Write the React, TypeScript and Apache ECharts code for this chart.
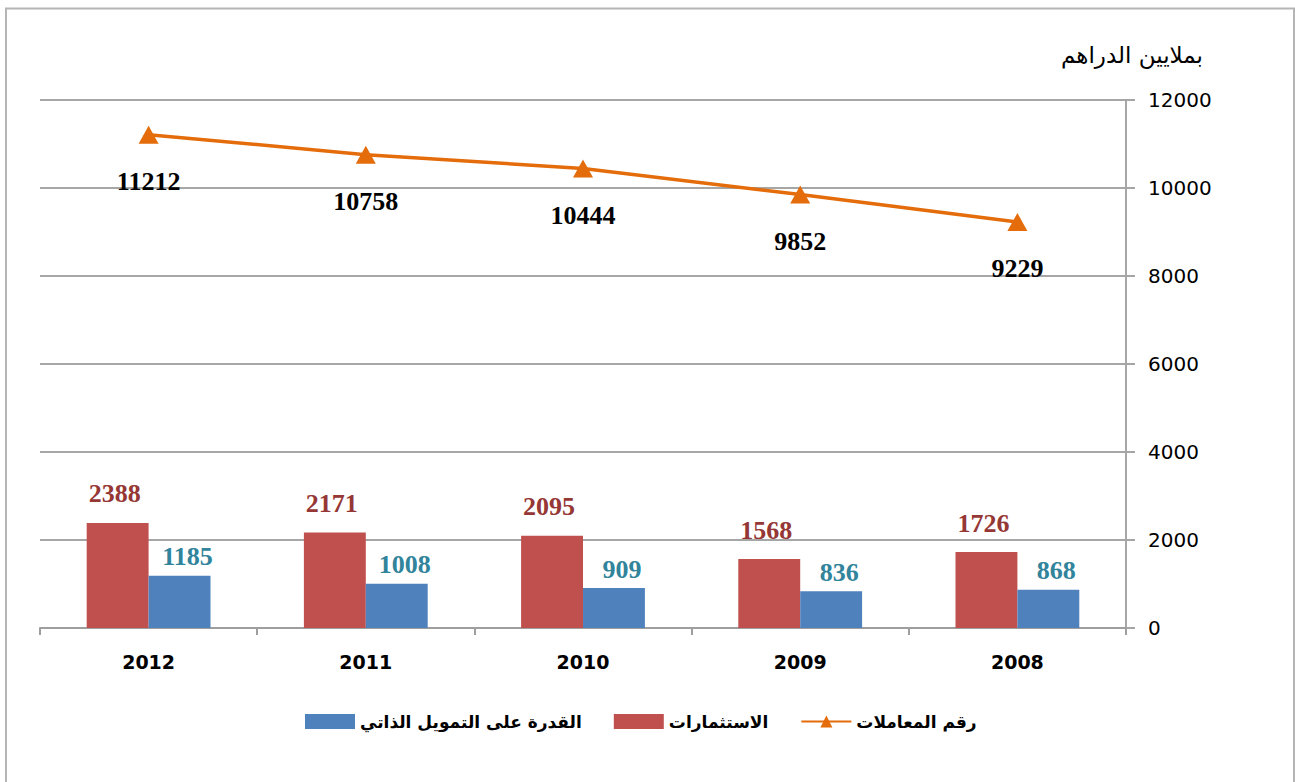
import React, { useEffect, useRef } from "react";
import * as echarts from "echarts";

const categories = ["2012", "2011", "2010", "2009", "2008"];
const turnover = [11212, 10758, 10444, 9852, 9229];
const investments = [2388, 2171, 2095, 1568, 1726];
const selfFinancing = [1185, 1008, 909, 836, 868];
const yTicks = { min: 0, max: 12000, interval: 2000 };

const nameTurnover = "رقم المعاملات";
const nameInvest = "الاستثمارات";
const nameSelf = "القدرة على التمويل الذاتي";
const unitText = "بملايين الدراهم";

export default function App() {
  const ref = useRef<HTMLDivElement>(null);
  useEffect(() => {
    if (!ref.current) return;
    const chart = echarts.init(ref.current, null, { renderer: "svg" });
    const numFont = "'Liberation Serif', 'Times New Roman', serif";
    const sans = "'DejaVu Sans', sans-serif";
    chart.setOption({
      animation: false,
      backgroundColor: "#ffffff",
      grid: { left: 40, right: 169, top: 100, height: 528 },
      graphic: [
        {
          type: "rect",
          shape: { x: 6, y: 8.5, width: 1288, height: 800 },
          style: { fill: "none", stroke: "#B5B5B5", lineWidth: 2 },
          silent: true,
        },
        {
          type: "text",
          x: 1203,
          y: 55,
          style: {
            text: unitText,
            font: `23px ${sans}`,
            fill: "#000000",
            align: "right",
            verticalAlign: "middle",
          },
        },
      ],
      legend: {
        left: 300,
        top: 708,
        itemWidth: 50,
        itemHeight: 15,
        itemGap: 32,
        data: [
          { name: nameSelf, icon: "rect" },
          { name: nameInvest, icon: "rect" },
          { name: nameTurnover },
        ],
        textStyle: { fontFamily: sans, fontWeight: "bold", fontSize: 17, color: "#000" },
      },
      xAxis: {
        type: "category",
        data: categories,
        axisLine: { lineStyle: { color: "#9E9E9E", width: 2 } },
        axisTick: { show: true, length: 7, lineStyle: { color: "#9E9E9E", width: 2 } },
        axisLabel: {
          fontFamily: sans,
          fontWeight: "bold",
          fontSize: 19,
          color: "#000",
          margin: 24,
        },
      },
      yAxis: {
        type: "value",
        position: "right",
        min: yTicks.min,
        max: yTicks.max,
        interval: yTicks.interval,
        axisLine: { show: true, lineStyle: { color: "#A6A6A6", width: 2 } },
        axisTick: { show: true, length: 9, lineStyle: { color: "#A6A6A6", width: 2 } },
        splitLine: { lineStyle: { color: "#A6A6A6", width: 2 } },
        axisLabel: {
          fontFamily: sans,
          fontSize: 20,
          color: "#000",
          margin: 22,
          formatter: (v: number) => String(v),
        },
      },
      series: [
        {
          name: nameInvest,
          type: "bar",
          data: investments,
          barGap: "0%",
          barCategoryGap: "43%",
          itemStyle: { color: "#C0504D" },
          label: {
            show: true,
            position: "top",
            distance: 16,
            offset: [-3, 0],
            fontFamily: numFont,
            fontWeight: "bold",
            fontSize: 26,
            color: "#953735",
          },
        },
        {
          name: nameSelf,
          type: "bar",
          data: selfFinancing,
          itemStyle: { color: "#4F81BD" },
          label: {
            show: true,
            position: "top",
            distance: 6,
            offset: [8, 0],
            fontFamily: numFont,
            fontWeight: "bold",
            fontSize: 26,
            color: "#31849B",
          },
        },
        {
          name: nameTurnover,
          type: "line",
          data: turnover,
          symbol: "triangle",
          symbolSize: [20, 18],
          itemStyle: { color: "#E46C0A" },
          lineStyle: { color: "#E46C0A", width: 3.5 },
          label: {
            show: true,
            position: "bottom",
            distance: 25,
            fontFamily: numFont,
            fontWeight: "bold",
            fontSize: 26,
            color: "#000",
          },
        },
      ],
    });
    return () => chart.dispose();
  }, []);
  return (
    <div
      ref={ref}
      style={{ position: "fixed", left: 0, top: 0, width: 1295, height: 782 }}
    />
  );
}
